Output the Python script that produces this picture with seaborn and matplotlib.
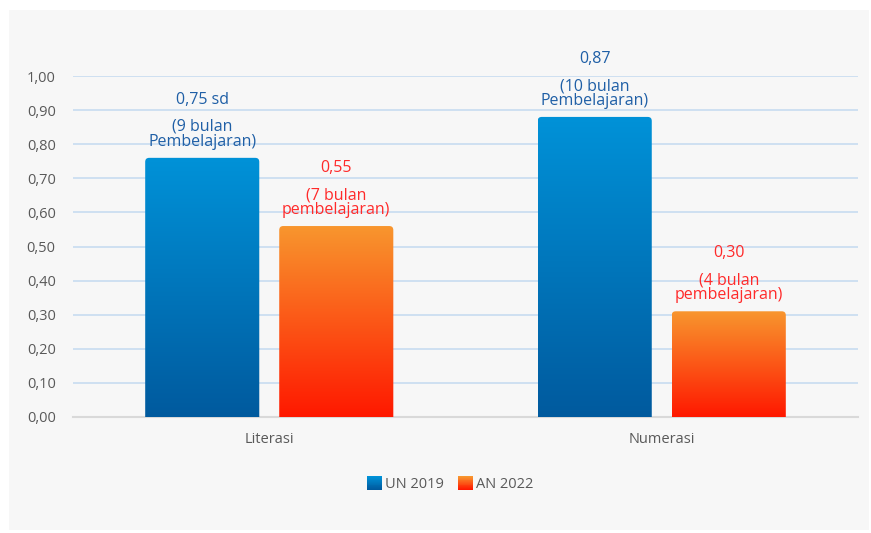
import seaborn as sns
import pandas as pd
import numpy as np
import matplotlib
matplotlib.use("Agg")
import matplotlib.pyplot as plt
from matplotlib.patches import FancyBboxPatch, Rectangle
from matplotlib.colors import LinearSegmentedColormap
from matplotlib.legend_handler import HandlerBase
from matplotlib.ticker import FuncFormatter

# data
categories = ["Literasi", "Numerasi"]
series = ["UN 2019", "AN 2022"]
un_2019 = [0.76, 0.88]
an_2022 = [0.56, 0.31]
value_labels = {
    "UN 2019": ["0,75 sd", "0,87"],
    "AN 2022": ["0,55", "0,30"],
}
note_labels = {
    "UN 2019": ["(9 bulan\nPembelajaran)", "(10 bulan\nPembelajaran)"],
    "AN 2022": ["(7 bulan\npembelajaran)", "(4 bulan\npembelajaran)"],
}

# gradient colours (top, bottom) and label colours
grad = {"UN 2019": ("#0092d8", "#005a9e"), "AN 2022": ("#f8962e", "#ff1800")}
text_col = {"UN 2019": "#1f5fa6", "AN 2022": "#ff2a2a"}

df = pd.DataFrame({
    "category": categories * 2,
    "series": [series[0]] * 2 + [series[1]] * 2,
    "value": un_2019 + an_2022,
})

sns.set_theme(style="white")
plt.rcParams["font.family"] = ["Open Sans", "DejaVu Sans"]

fig = plt.figure(figsize=(8.71, 5.33), dpi=100, facecolor="white")
# light grey panel behind the chart
fig.patches.append(Rectangle((9 / 871, 1 - 530 / 533), 860 / 871, 520 / 533,
                             transform=fig.transFigure, facecolor="#f7f7f7",
                             edgecolor="none", zorder=-10))
ax = fig.add_axes([73 / 871, 1 - 417 / 533, 785 / 871, 341 / 533])
ax.set_facecolor("none")

sns.barplot(data=df, x="category", y="value", hue="series", hue_order=series,
            palette=[grad[s][0] for s in series], width=0.683, gap=0.149,
            legend=False, ax=ax, zorder=3)

ax.set_xlim(-0.5, 1.5)
ax.set_ylim(0, 1.0)

# px -> data units for rounded corners
x_per_px = 2.0 / 785
y_per_px = 1.0 / 341
r = 4 * x_per_px

for s, cont in zip(series, ax.containers):
    cmap = LinearSegmentedColormap.from_list(s, [grad[s][1], grad[s][0]])
    for i, bar in enumerate(cont.patches):
        x0, w, h = bar.get_x(), bar.get_width(), bar.get_height()
        bar.set_visible(False)
        clip = FancyBboxPatch((x0, -0.02), w, h + 0.02,
                              boxstyle=f"round,pad=0,rounding_size={r}",
                              mutation_aspect=y_per_px / x_per_px,
                              facecolor="none", edgecolor="none",
                              transform=ax.transData)
        ax.add_patch(clip)
        img = ax.imshow(np.linspace(0, 1, 256).reshape(-1, 1), cmap=cmap,
                        origin="lower", aspect="auto",
                        extent=(x0, x0 + w, 0, h), zorder=3)
        img.set_clip_path(clip)
        cx = x0 + w / 2
        ax.annotate(note_labels[s][i], (cx, h), xytext=(0, 6),
                    textcoords="offset points", ha="center", va="bottom",
                    fontsize=11.5, color=text_col[s], linespacing=0.88,
                    annotation_clip=False)
        ax.annotate(value_labels[s][i], (cx, h), xytext=(0, 36),
                    textcoords="offset points", ha="center", va="bottom",
                    fontsize=11.5, color=text_col[s], annotation_clip=False)

ax.set_xlim(-0.5, 1.5)
ax.set_ylim(0, 1.0)

# grid and axes styling
ax.set_yticks(np.arange(0, 1.01, 0.1))
ax.yaxis.set_major_formatter(FuncFormatter(lambda v, p: f"{v:.2f}".replace(".", ",")))
for yv in np.arange(0.1, 1.01, 0.1):
    ax.axhline(yv, color="#c8dcf0", lw=1.2, zorder=1)
for side in ["top", "right", "left"]:
    ax.spines[side].set_visible(False)
ax.spines["bottom"].set_color("#d9d9d9")
ax.spines["bottom"].set_linewidth(1.5)
ax.set_xticks([-0.5, 0.5, 1.5], minor=True)
ax.tick_params(axis="x", which="minor", length=4, width=1.5, color="#d9d9d9")
ax.tick_params(axis="x", which="major", length=0, pad=11, labelsize=10.5, labelcolor="#595959")
ax.tick_params(axis="y", length=0, pad=12.5, labelsize=10.5, labelcolor="#595959")
ax.set_xlabel("")
ax.set_ylabel("")


class GradHandler(HandlerBase):
    def __init__(self, top, bottom):
        super().__init__()
        self.cmap = LinearSegmentedColormap.from_list("h", [bottom, top])

    def create_artists(self, legend, orig_handle, xdescent, ydescent, width,
                       height, fontsize, trans):
        n = 16
        arts = []
        for k in range(n):
            arts.append(Rectangle((-xdescent, -ydescent + k * height / n),
                                  width, height / n + 0.3,
                                  facecolor=self.cmap(k / (n - 1)),
                                  edgecolor="none", transform=trans))
        return arts


handles = [Rectangle((0, 0), 1, 1) for _ in series]
fig.legend(handles, series, loc="center", bbox_to_anchor=(450 / 871, 1 - 484 / 533),
           ncol=2, frameon=False, fontsize=10.5, labelcolor="#595959",
           handlelength=1.05, handleheight=1.05, handletextpad=0.15,
           columnspacing=1.0,
           handler_map={h: GradHandler(*grad[s]) for h, s in zip(handles, series)})

fig.savefig("out.png", dpi=100, facecolor="white")
